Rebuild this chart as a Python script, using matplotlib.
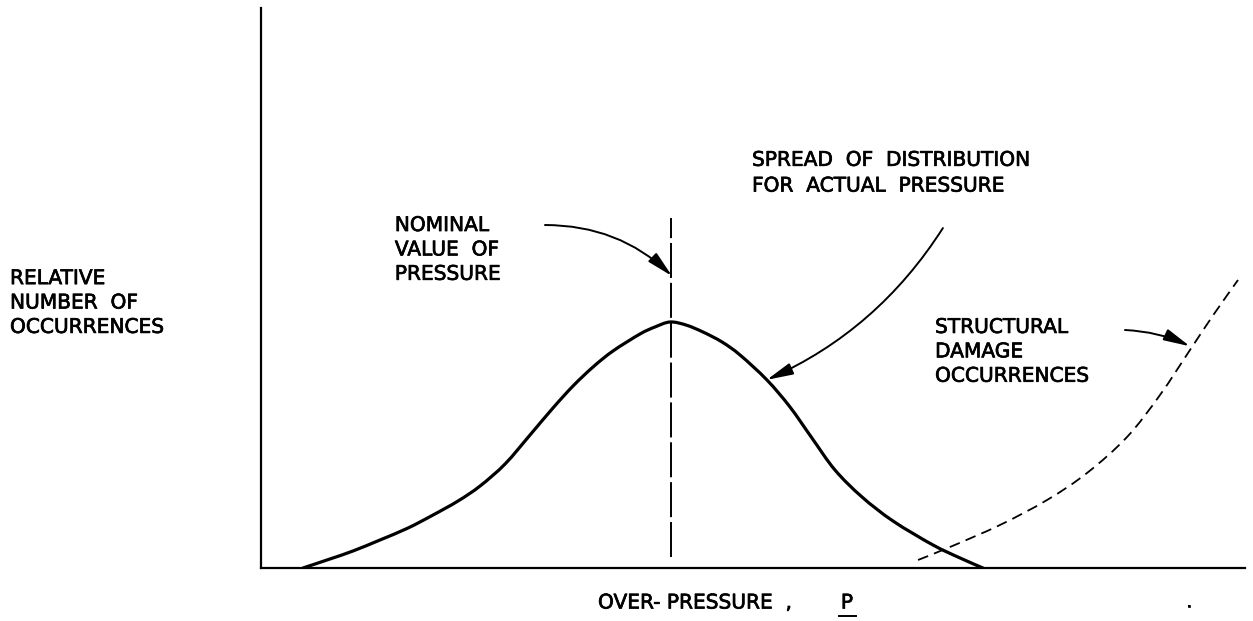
import numpy as np
import matplotlib.pyplot as plt
import matplotlib.patheffects as pe
from matplotlib.lines import Line2D
from matplotlib.path import Path
from matplotlib.patches import PathPatch

# over-pressure (x) and relative number of occurrences (y), arbitrary 0-100 units
dist_x = [4.27, 7.01, 9.35, 12.09, 14.94, 17.48, 20.02, 22.26, 24.80, 27.34,
          29.67, 31.71, 33.74, 35.77, 38.52, 40.04, 41.57, 43.19, 44.92, 46.85,
          48.68, 51.42, 53.76, 55.99, 58.33, 61.08, 64.23, 68.29, 71.04, 73.37]
dist_y = [0, 1.61, 3.04, 5.0, 7.14, 9.46, 11.96, 14.64, 18.57, 23.75,
          28.57, 32.50, 35.89, 38.75, 41.79, 43.04, 43.93, 43.39, 42.14, 40.36,
          38.04, 33.57, 28.75, 23.21, 17.5, 12.68, 8.39, 4.11, 1.79, 0]

damage_x = [66.77, 70.02, 75.10, 79.88, 83.94, 88.01, 91.36, 94.41, 96.85, 99.29]
damage_y = [1.43, 3.75, 7.68, 12.14, 16.96, 23.39, 30.89, 38.93, 45.36, 51.43]

nominal_x = 41.7
nominal_y = [1.96, 62.5]

labels = {
    'ylabel': 'RELATIVE\nNUMBER  OF\nOCCURRENCES',
    'nominal': 'NOMINAL\nVALUE  OF\nPRESSURE',
    'spread': 'SPREAD  OF  DISTRIBUTION\nFOR  ACTUAL  PRESSURE',
    'damage': 'STRUCTURAL\nDAMAGE\nOCCURRENCES',
}


def smooth_path(xs, ys):
    # Catmull-Rom through the read points, drawn as cubic Bezier segments
    p = np.column_stack([xs, ys]).astype(float)
    verts = [p[0]]
    codes = [Path.MOVETO]
    for i in range(len(p) - 1):
        p0 = p[i - 1] if i > 0 else p[i]
        p3 = p[i + 2] if i + 2 < len(p) else p[i + 1]
        c1 = p[i] + (p[i + 1] - p0) / 6
        c2 = p[i + 1] - (p3 - p[i]) / 6
        verts += [c1, c2, p[i + 1]]
        codes += [Path.CURVE4] * 3
    return Path(verts, codes)


W, H = 1253, 621
fig = plt.figure(figsize=(W / 100, H / 100), dpi=100)
# plot box in pixels: x 261..1245, y 8..568
ax = fig.add_axes([261 / W, (H - 568) / H, (1245 - 261) / W, (568 - 8) / H])
ax.set_xlim(0, 100)
ax.set_ylim(0, 100)
for s in ['top', 'right']:
    ax.spines[s].set_visible(False)
for s in ['left', 'bottom']:
    ax.spines[s].set_linewidth(1.6)
ax.set_xticks([])
ax.set_yticks([])

ax.add_patch(PathPatch(smooth_path(dist_x, dist_y), fill=False, edgecolor='k',
                       lw=2.3, joinstyle='round', capstyle='round'))
ax.add_patch(PathPatch(smooth_path(damage_x, damage_y), fill=False, edgecolor='k',
                       lw=1.3, linestyle=(0, (6, 3.5)), clip_on=False))
ax.plot([nominal_x, nominal_x], nominal_y, color='k', lw=1.4, linestyle=(0, (18, 2.5)))

fs = 14.5
bold = [pe.withStroke(linewidth=0.5, foreground='k')]
tkw = dict(fontsize=fs, family='DejaVu Sans', linespacing=1.36, clip_on=False,
           path_effects=bold)

fig.text(10 / W, 1 - 303 / H, labels['ylabel'], ha='left', va='center', **tkw)
ax.text(13.6, 56.8, labels['nominal'], ha='left', va='center', **tkw)
ax.text(49.9, 70.5, labels['spread'], ha='left', va='center',
        **{**tkw, 'linespacing': 1.45})
ax.text(68.5, 38.6, labels['damage'], ha='left', va='center', **tkw)

akw = dict(arrowstyle='-|>,head_length=0.8,head_width=0.18', color='k', lw=1.4,
           mutation_scale=20, shrinkA=0, shrinkB=0)
ax.annotate('', xy=(41.77, 52.14), xytext=(28.86, 61.25),
            arrowprops=dict(connectionstyle='arc3,rad=-0.2', **akw))
ax.annotate('', xy=(51.4, 33.6), xytext=(69.3, 60.7),
            arrowprops=dict(connectionstyle='arc3,rad=-0.15', **akw))
ax.annotate('', xy=(94.4, 39.6), xytext=(87.8, 42.5),
            arrowprops=dict(connectionstyle='arc3,rad=-0.1', **akw))

fig.text(598 / W, 1 - 603 / H, 'OVER- PRESSURE  ,', ha='left', va='center',
         fontsize=fs, family='DejaVu Sans', path_effects=bold)
fig.text(847 / W, 1 - 603 / H, 'P', ha='center', va='center', fontsize=fs,
         family='DejaVu Sans', path_effects=bold)
fig.add_artist(Line2D([839 / W, 856 / W], [1 - 616 / H, 1 - 616 / H], color='k', lw=1.4))
fig.text(1189 / W, 1 - 603 / H, '.', ha='center', va='center', fontsize=9,
         path_effects=bold)

fig.savefig('out.png', dpi=100, facecolor='white')
